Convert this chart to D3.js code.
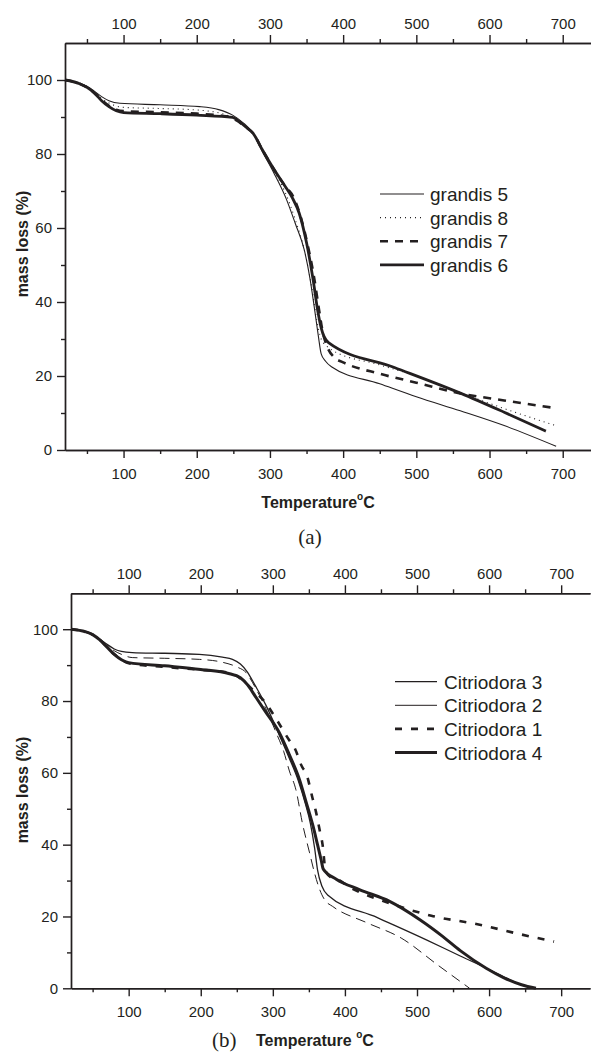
<!DOCTYPE html>
<html><head><meta charset="utf-8">
<script src="https://cdn.jsdelivr.net/npm/d3@7"></script>
<style>
html,body{margin:0;padding:0;background:#fff;}
svg{display:block;font-family:"Liberation Sans",Arial,sans-serif;}
</style></head>
<body>
<svg id="chart" width="591" height="1054"></svg>
<script>
// ---------- DATA ----------
const xMajorTicks = [100, 200, 300, 400, 500, 600, 700];
const xMinorTicks = [50, 150, 250, 350, 450, 550, 650];
const yMajorTicks = [0, 20, 40, 60, 80, 100];
const yMinorTicks = [10, 30, 50, 70, 90];

// panel (a) grandis : [temperature, mass]
const grandis5 = [[20,100],[40,99],[50,98.3],[60,97],[70,95.5],[80,94.4],[95,93.7],[150,93.3],[204,92.8],[230,92],[249,90.5],[263,88.5],[277,85.6],[290,80.5],[305,75],[322,68],[335,61],[347,54],[355,46],[361,38],[366,31],[370,26],[376,24],[384,22.5],[450,17.9],[500,14.4],[560,10.6],[620,6.6],[691,1]];
const grandis8 = [[20,100],[40,99],[50,98.2],[60,96.8],[70,95],[80,93.8],[100,92.6],[150,92.3],[200,91.9],[240,90.6],[255,89.2],[265,87.8],[277,85.6],[290,81],[305,75.5],[320,70],[335,62],[347,54],[357,44],[364,35],[370,30],[378,28],[385,27],[450,23],[500,20],[560,15.5],[620,11.2],[692,6.5]];
const grandis7 = [[20,100],[40,99],[50,98],[60,96.5],[70,94.6],[80,93],[90,92],[100,91.6],[150,91.3],[200,90.9],[240,90.2],[255,89],[265,87.5],[277,85.6],[290,81],[305,76],[320,71.5],[333,68],[342,63],[352,55],[360,47],[367,38],[372,32],[378,28],[388,25],[400,23.7],[450,20.6],[500,18.2],[560,15.3],[620,13.4],[691,11.3]];
const grandis6 = [[20,100],[40,99],[50,98],[60,96.5],[70,94.4],[80,92.8],[90,91.7],[100,91.2],[150,90.9],[200,90.5],[249,89.9],[258,88.8],[267,87.3],[277,85.6],[290,81],[305,76],[320,71.5],[331,68],[340,64],[350,56],[359,46],[365,38],[370,33],[380,29],[470,22.3],[561,15.3],[620,10.2],[677,5.1]];

// panel (b) Citriodora
const citriodora3 = [[20,100],[40,99.3],[50,98.5],[60,97.2],[70,95.8],[80,94.5],[90,93.8],[105,93.5],[150,93.3],[198,93],[230,92.2],[244,91.6],[255,90.3],[265,88],[275,84.5],[290,79],[309,70.5],[323,64],[335,58],[345,51.5],[352,46],[358,39],[362,33],[368,28.5],[376,26],[445,19.7],[513,13.5],[560,9],[592,6],[620,3.2],[645,1],[665,0]];
const citriodora2 = [[20,100],[40,99.3],[50,98.5],[60,97],[70,95.5],[80,94],[90,93],[105,92.1],[150,91.9],[198,91.6],[230,90.8],[250,89.5],[263,87.9],[275,84],[290,78],[305,71],[315,66],[323,60.5],[332,55.3],[341,46],[351,37.7],[358,32],[365,27.5],[372,24.6],[383,22.8],[430,18.3],[478,14],[530,6.3],[573,0]];
const citriodora1 = [[20,100],[40,99.3],[50,98.5],[60,97],[70,95],[80,93],[90,91.5],[100,90.5],[150,89.5],[200,88.7],[221,88.4],[245,87.5],[260,85.5],[275,82.5],[288,80],[305,74.9],[323,69],[330,67],[341,61.5],[346,60],[355,53],[360,49],[365,44],[369,40],[373,33],[380,31],[386,30.7],[409,27.9],[462,23.7],[520,20.2],[587,17.7],[640,15.2],[690,13]];
const citriodora4 = [[20,100],[40,99.3],[50,98.5],[60,97],[70,95],[80,93],[90,91.5],[100,90.7],[150,89.8],[200,88.8],[240,87.6],[255,86.5],[265,84.5],[275,81.5],[290,77],[309,71.2],[323,65],[337,58.1],[346,52],[356,45],[362,40],[367,35.8],[370,33.2],[388,30.4],[420,27.5],[462,24.2],[504,19.1],[536,14.4],[560,10.5],[596,5.6],[620,3],[645,1],[665,0]];

const seriesA = [
  {name:"grandis 5", data:grandis5, width:1.1, dash:null, legDash:null},
  {name:"grandis 8", data:grandis8, width:1.1, dash:"1,4", legDash:"1,4"},
  {name:"grandis 7", data:grandis7, width:2.6, dash:"8,7", legDash:"8,7"},
  {name:"grandis 6", data:grandis6, width:2.8, dash:null, legDash:null}
];
const seriesB = [
  {name:"Citriodora 3", data:citriodora3, width:1.3, dash:null, legDash:null},
  {name:"Citriodora 2", data:citriodora2, width:1.0, dash:"10,6", legDash:null},
  {name:"Citriodora 1", data:citriodora1, width:2.6, dash:"7,9", legDash:"7,9"},
  {name:"Citriodora 4", data:citriodora4, width:3.0, dash:null, legDash:null}
];

// ---------- DRAW ----------
const svg = d3.select("#chart");
const INK = "#231f20";

function panel(cfg){
  const g = svg.append("g");
  const x = d3.scaleLinear().domain([20, 740]).range([cfg.left, cfg.right]);
  const y = d3.scaleLinear().domain([0, 110]).range([cfg.bottom, cfg.top]);

  function styleAxis(sel){
    sel.selectAll("path,line").attr("stroke", INK).attr("stroke-width", 1.4);
    sel.selectAll("text").attr("fill", INK).attr("font-size", 15)
       .attr("font-family", '"Liberation Sans",Arial,sans-serif');
  }
  g.append("g").attr("transform", `translate(0,${cfg.bottom})`)
    .call(d3.axisBottom(x).tickValues(xMajorTicks).tickSize(8).tickSizeOuter(0).tickPadding(10).tickFormat(d3.format("d")))
    .call(styleAxis);
  g.append("g").attr("transform", `translate(0,${cfg.bottom})`)
    .call(d3.axisBottom(x).tickValues(xMinorTicks).tickSize(4).tickSizeOuter(0).tickFormat(""))
    .call(styleAxis);
  g.append("g").attr("transform", `translate(0,${cfg.top})`)
    .call(d3.axisTop(x).tickValues(xMajorTicks).tickSize(8).tickSizeOuter(0).tickPadding(6).tickFormat(d3.format("d")))
    .call(styleAxis);
  g.append("g").attr("transform", `translate(0,${cfg.top})`)
    .call(d3.axisTop(x).tickValues(xMinorTicks).tickSize(4).tickSizeOuter(0).tickFormat(""))
    .call(styleAxis);
  g.append("g").attr("transform", `translate(${cfg.left},0)`)
    .call(d3.axisLeft(y).tickValues(yMajorTicks).tickSize(8).tickSizeOuter(0).tickPadding(5).tickFormat(d3.format("d")))
    .call(styleAxis);
  g.append("g").attr("transform", `translate(${cfg.left},0)`)
    .call(d3.axisLeft(y).tickValues(yMinorTicks).tickSize(4).tickSizeOuter(0).tickFormat(""))
    .call(styleAxis);

  const line = d3.line().x(d => x(d[0])).y(d => y(d[1])).curve(d3.curveMonotoneX);
  cfg.series.forEach(s => {
    g.append("path").attr("d", line(s.data)).attr("fill", "none")
      .attr("stroke", INK).attr("stroke-width", s.width)
      .attr("stroke-dasharray", s.dash).attr("stroke-linejoin", "round");
  });

  cfg.series.forEach((s, i) => {
    const ly = cfg.legY + i * cfg.legStep;
    g.append("line").attr("x1", cfg.legX1).attr("x2", cfg.legX2).attr("y1", ly).attr("y2", ly)
      .attr("stroke", INK).attr("stroke-width", s.width).attr("stroke-dasharray", s.legDash);
    g.append("text").attr("x", cfg.legTx).attr("y", ly + 7).attr("font-size", 19)
      .attr("fill", INK).text(s.name);
  });

  g.append("text").attr("transform", `translate(${cfg.yTitleX},${cfg.yTitleY}) rotate(-90)`)
    .attr("text-anchor", "middle").attr("font-size", 16).attr("font-weight", "bold")
    .attr("fill", INK).text("mass loss (%)");
  return {x, y, g};
}

panel({left:65, right:592, top:43, bottom:450, series:seriesA,
  legX1:380, legX2:424, legTx:430, legY:194, legStep:23.6, yTitleX:28, yTitleY:244});
panel({left:71, right:590, top:593.3, bottom:988.3, series:seriesB,
  legX1:395, legX2:437, legTx:444, legY:681.7, legStep:23.6, yTitleX:28, yTitleY:790});

const tA = svg.append("text").attr("x", 318).attr("y", 508).attr("text-anchor", "middle")
  .attr("font-size", 16).attr("font-weight", "bold").attr("fill", INK);
tA.append("tspan").text("Temperature");
tA.append("tspan").attr("font-size", 10).attr("dy", -8).text("o");
tA.append("tspan").attr("dy", 8).text("C");

svg.append("text").attr("x", 310).attr("y", 544).attr("text-anchor", "middle")
  .attr("font-size", 21).attr("font-family", '"Liberation Serif","Times New Roman",serif')
  .attr("fill", INK).text("(a)");

const tB = svg.append("text").attr("x", 256).attr("y", 1046)
  .attr("font-size", 16).attr("font-weight", "bold").attr("fill", INK);
tB.append("tspan").text("Temperature ");
tB.append("tspan").attr("font-size", 10).attr("dy", -8).text("o");
tB.append("tspan").attr("dy", 8).text("C");

svg.append("text").attr("x", 212).attr("y", 1047)
  .attr("font-size", 21).attr("font-family", '"Liberation Serif","Times New Roman",serif')
  .attr("fill", INK).text("(b)");
</script>
</body></html>
